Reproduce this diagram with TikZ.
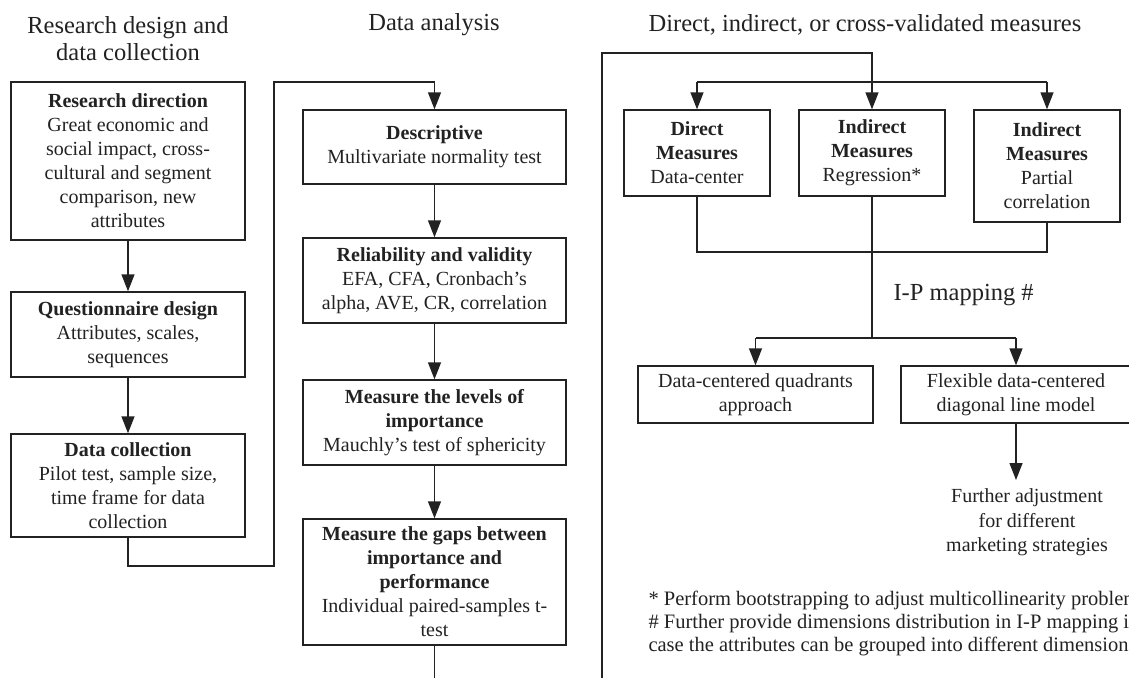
\documentclass[tikz,border=0pt]{standalone}
\usepackage{fontspec}
\setmainfont{Liberation Serif}
\usetikzlibrary{arrows.meta}
\definecolor{ink}{HTML}{222222}
\tikzset{
  box/.style={draw=ink, line width=1.4pt, inner sep=0pt, align=center,
              text=ink, font=\fontsize{20}{24}\selectfont},
  link/.style={draw=ink, line width=1.4pt},
  arr/.style={link, -{Triangle[length=17pt,width=13pt]}},
  head/.style={align=center, text=ink, font=\fontsize{24.5}{27}\selectfont},
  plain/.style={align=center, text=ink, font=\fontsize{20}{24.5}\selectfont},
  note/.style={align=left, text=ink, font=\fontsize{20.5}{23}\selectfont},
}
\begin{document}
\begin{tikzpicture}[x=1pt,y=-1pt]
\fill[white] (0,0) rectangle (1129,677);
\clip (0,0) rectangle (1129,677);

% column headings
\node[head] (h1) at (128,38.5) {Research design and\\data collection};
\node[head] (h2) at (434,25) {Data analysis};
\node[head] (h3) at (865,25) {Direct, indirect, or cross-validated measures};

% research design and data collection
\node[box, minimum width=234pt, minimum height=158pt] (rd) at (128,161)
  {\textbf{Research direction}\\Great economic and\\social impact, cross-\\cultural and segment\\comparison, new\\attributes};
\node[box, minimum width=234pt, minimum height=85pt] (qd) at (128,334.5)
  {\textbf{Questionnaire design}\\Attributes, scales,\\sequences};
\node[box, minimum width=234pt, minimum height=103pt] (dc) at (128,485.5)
  {\textbf{Data collection}\\Pilot test, sample size,\\time frame for data\\collection};

% data analysis
\node[box, minimum width=263pt, minimum height=74pt] (desc) at (434.5,147)
  {\textbf{Descriptive}\\Multivariate normality test};
\node[box, minimum width=263pt, minimum height=85pt] (rel) at (434.5,280.5)
  {\textbf{Reliability and validity}\\EFA, CFA, Cronbach's\\alpha, AVE, CR, correlation};
\node[box, minimum width=263pt, minimum height=85pt] (lev) at (434.5,422.5)
  {\textbf{Measure the levels of}\\\textbf{importance}\\Mauchly's test of sphericity};
\node[box, minimum width=263pt, minimum height=126pt] (gap) at (434.5,582)
  {\textbf{Measure the gaps between}\\\textbf{importance and}\\\textbf{performance}\\Individual paired-samples t-\\test};

% measures
\node[box, minimum width=146pt, minimum height=86pt] (dm) at (697,153)
  {\textbf{Direct}\\\textbf{Measures}\\Data-center};
\node[box, minimum width=146pt, minimum height=86pt] (im) at (872,153)
  {\textbf{Indirect}\\\textbf{Measures}\\Regression*};
\node[box, minimum width=146pt, minimum height=112pt] (pc) at (1047,166)
  {\textbf{Indirect}\\\textbf{Measures}\\Partial\\correlation};

\node[head, anchor=west] (ip) at (890,295) {I-P mapping \#};

\node[box, minimum width=235pt, minimum height=57pt] (quad) at (755.5,394.5)
  {Data-centered quadrants\\approach};
\node[box, minimum width=230pt, minimum height=57pt] (flex) at (1016,394.5)
  {Flexible data-centered\\diagonal line model};

\node[plain] (adj) at (1027,522.5)
  {Further adjustment\\for different\\marketing strategies};

\node[note, anchor=west] (fn) at (645,623)
  {* Perform bootstrapping to adjust multicollinearity problem\\
   \# Further provide dimensions distribution in I-P mapping in\\
   case the attributes can be grouped into different dimensions};

% routing points
\coordinate (loopA) at (128,566);
\coordinate (loopB) at (274,566);
\coordinate (loopC) at (274,82);
\coordinate (midEnd) at (434.5,690);
\coordinate (rBot) at (602,690);
\coordinate (rTop) at (602,53);
\coordinate (split) at (0,82);
\coordinate (merge) at (0,252);
\coordinate (branch) at (0,338);
\coordinate (adjTip) at (1016,480);

% left column flow
\draw[arr] (rd.south) -- (qd.north);
\draw[arr] (qd.south) -- (dc.north);
\draw[arr] (dc.south) -- (loopA) -- (loopB) -- (loopC) -| (desc.north);

% data analysis flow
\draw[arr] (desc.south) -- (rel.north);
\draw[arr] (rel.south) -- (lev.north);
\draw[arr] (lev.south) -- (gap.north);
\draw[link] (gap.south) -- (midEnd);

% measures flow
\draw[arr] (rBot) -- (rTop) -| (im.north);
\draw[link] (dm.north |- split) -- (pc.north |- split);
\draw[arr] (dm.north |- split) -- (dm.north);
\draw[arr] (pc.north |- split) -- (pc.north);
\draw[link] (dm.south) -- (dm.south |- merge) -- (pc.south |- merge) -- (pc.south);
\draw[link] (im.south) -- (im.south |- branch);
\draw[link] (quad.north |- branch) -- (flex.north |- branch);
\draw[arr] (quad.north |- branch) -- (quad.north);
\draw[arr] (flex.north |- branch) -- (flex.north);
\draw[arr] (flex.south) -- (adjTip);
\end{tikzpicture}
\end{document}
